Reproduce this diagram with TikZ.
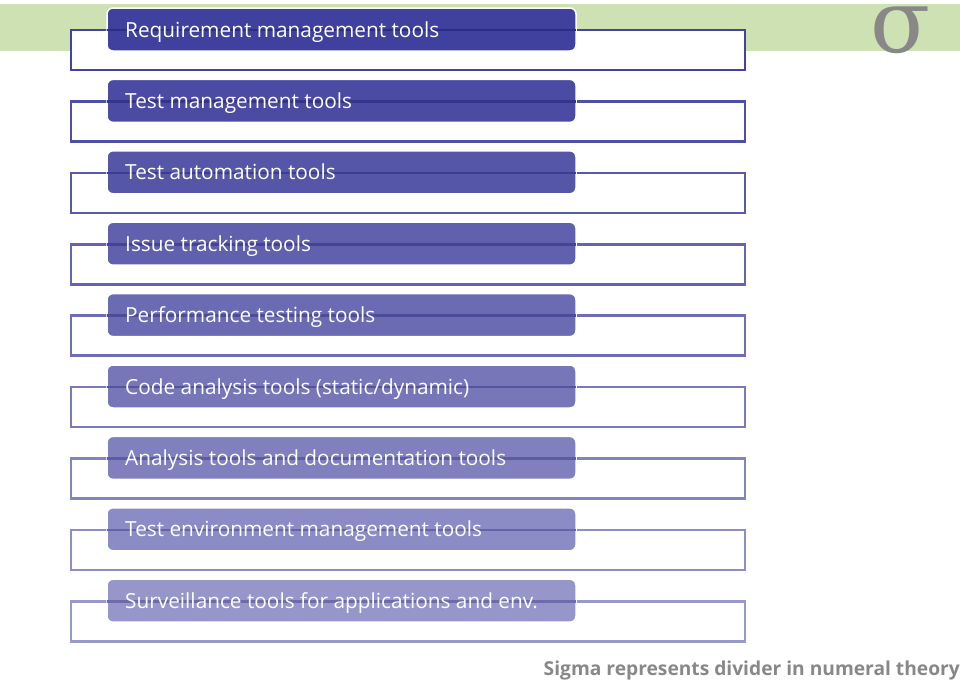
\documentclass[tikz,border=0pt]{standalone}
\usepackage{fontspec}
\setmainfont{Open Sans}
\newfontfamily\greekserif{DejaVu Serif}
\definecolor{bandgreen}{RGB}{205,225,179}
\definecolor{sigmagray}{RGB}{136,136,136}
\definecolor{boxtop}{RGB}{64,64,158}
\definecolor{boxbot}{RGB}{150,150,202}
\definecolor{linetop}{RGB}{68,68,160}
\definecolor{linebot}{RGB}{152,152,204}
\definecolor{intop}{RGB}{44,44,134}
\definecolor{inbot}{RGB}{108,108,172}
\tikzset{
  frame/.style={line width=2.6pt, fill=white},
  toolbox/.style={rounded corners=6pt, draw=white, line width=1.5pt},
  toollabel/.style={anchor=base west, inner sep=0pt, text=white, font=\fontsize{20.8}{24}\selectfont},
  note/.style={anchor=base east, inner sep=0pt, text=sigmagray, font=\fontsize{19.2}{23}\selectfont\bfseries},
}
\begin{document}
\begin{tikzpicture}[x=1pt,y=-1pt]
\useasboundingbox (0,0) rectangle (960,681);
\fill[bandgreen] (0,4) rectangle (960,51);
\node[anchor=base, inner sep=0pt, text=sigmagray, font=\greekserif\fontsize{88}{94}\selectfont] (sigma) at (901,52) {σ};
\foreach \i/\t in {0/{Requirement management tools},
                   1/{Test management tools},
                   2/{Test automation tools},
                   3/{Issue tracking tools},
                   4/{Performance testing tools},
                   5/{Code analysis tools (static/dynamic)},
                   6/{Analysis tools and documentation tools},
                   7/{Test environment management tools},
                   8/{Surveillance tools for applications and env.}} {
  \pgfmathsetmacro{\p}{100-\i*12.5}
  \pgfmathsetmacro{\yy}{8+\i*71.4}
  \colorlet{bc}{boxtop!\p!boxbot}
  \colorlet{lc}{linetop!\p!linebot}
  \colorlet{ic}{intop!\p!inbot}
  \draw[frame, draw=lc] (71,\yy+22) rectangle (745,\yy+62);
  \path[toolbox, fill=bc] (107,\yy) rectangle (576,\yy+43);
  \coordinate (l\i) at (107,\yy+22);
  \coordinate (r\i) at (576,\yy+22);
  \draw[line width=2.6pt, draw=ic] (l\i) -- (r\i);
  \node[toollabel] (t\i) at (125,\yy+29) {\t};
}
\node[note] (note) at (960,675) {Sigma represents divider in numeral theory};
\end{tikzpicture}
\end{document}
